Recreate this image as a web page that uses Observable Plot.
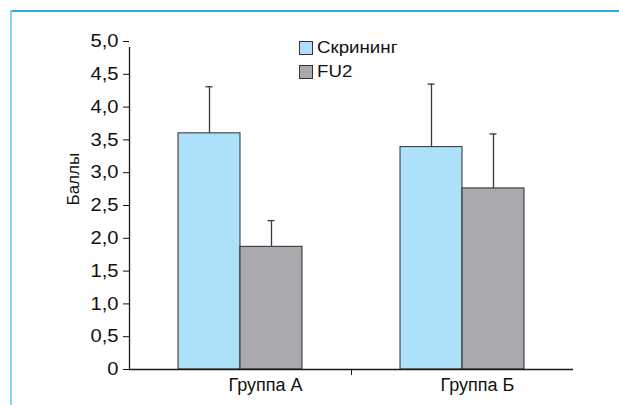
<!DOCTYPE html>
<html><head><meta charset="utf-8">
<script src="https://cdn.jsdelivr.net/npm/d3@7"></script>
<script src="https://cdn.jsdelivr.net/npm/@observablehq/plot@0.6"></script>
<style>
body{margin:0;background:#fff;}
#wrap{position:relative;width:619px;height:405px;overflow:hidden;font-family:"Liberation Sans",Arial,sans-serif;}
.ftop{position:absolute;left:10px;top:10px;width:609px;height:2px;background:#2ea8e0;}
.fleft{position:absolute;left:10px;top:10px;width:2px;height:395px;background:#80d4f8;}
#legend{position:absolute;left:299px;top:41px;}
.row{display:flex;align-items:center;height:14px;margin-bottom:10px;font-size:17px;color:#111;line-height:14px;}
.sw{width:12px;height:12px;border:1px solid #333;margin-right:4px;box-sizing:content-box;flex:none;}
.lab{display:inline-block;transform:scaleX(1.1);transform-origin:0 50%;white-space:nowrap;margin-top:-1px;}
</style></head><body><div id="wrap"></div>
<script>
const groups = ["Группа А", "Группа Б"];
const series = ["Скрининг", "FU2"];
const screening = [3.60, 3.39];
const screeningErr = [0.71, 0.96];
const fu2 = [1.87, 2.76];
const fu2Err = [0.40, 0.83];
const yTicks = [0, 0.5, 1, 1.5, 2, 2.5, 3, 3.5, 4, 4.5, 5];
const colors = ["#ade1fa", "#a7a9ac"];
const yLabel = "Баллы";

const sData = groups.map((g, i) => ({group: g, value: screening[i], err: screeningErr[i]}));
const fData = groups.map((g, i) => ({group: g, value: fu2[i], err: fu2Err[i]}));

const barStyle = {stroke: "#2b2b2b", strokeWidth: 1};
const errStyle = {stroke: "#3a3a3a", strokeWidth: 1.3};

const chart = Plot.plot({
  width: 619,
  height: 405,
  marginLeft: 129,
  marginRight: 46,
  marginTop: 41,
  marginBottom: 36,
  style: {fontFamily: "Liberation Sans, Arial, sans-serif", fontSize: "18px", color: "#111", background: "transparent"},
  x: {domain: groups, padding: 0, axis: null},
  y: {domain: [0, 5], axis: null},
  marks: [
    Plot.barY(sData, {x: "group", y: "value", fill: colors[0], insetLeft: 49, insetRight: 111, ...barStyle}),
    Plot.barY(fData, {x: "group", y: "value", fill: colors[1], insetLeft: 111, insetRight: 49, ...barStyle}),
    Plot.ruleX(sData, {x: "group", y1: "value", y2: d => d.value + d.err, dx: -31, ...errStyle}),
    Plot.ruleX(fData, {x: "group", y1: "value", y2: d => d.value + d.err, dx: 31, ...errStyle}),
    Plot.tickY(sData, {x: "group", y: d => d.value + d.err, insetLeft: 76.5, insetRight: 138.5, ...errStyle}),
    Plot.tickY(fData, {x: "group", y: d => d.value + d.err, insetLeft: 138.5, insetRight: 76.5, ...errStyle}),
    Plot.ruleY([0], {stroke: "#1a1a1a", strokeWidth: 1.3}),
    Plot.ruleX([groups[0]], {x: d => d, y1: 0, y2: 5, dx: -111, insetBottom: -6, stroke: "#1a1a1a", strokeWidth: 1.3}),
    Plot.ruleX(groups.slice(1), {x: d => d, y1: 0, y2: 0, dx: -111, insetBottom: -6, stroke: "#1a1a1a", strokeWidth: 1}),
    Plot.axisY({ticks: yTicks, tickSize: 6, tickPadding: 5, label: null, fontSize: 18,
      tickFormat: d => d === 0 ? "0" : d.toFixed(1).replace(".", ",")}),
    Plot.text([groups[0]], {x: d => d, frameAnchor: "bottom", dy: 21, dx: 25, fontSize: 18, fill: "#111"}),
    Plot.text([groups[1]], {x: d => d, frameAnchor: "bottom", dy: 21, dx: 15, fontSize: 18, fill: "#111"}),
    Plot.text([yLabel], {frameAnchor: "left", dx: -56, rotate: -90, fontSize: 17, fill: "#111", ariaLabel: "y-label"})
  ]
});

// horizontally widen some labels, as in the reference typesetting
function widen(el, k) {
  const t = el.getAttribute("transform");
  if (t) {
    el.setAttribute("transform", t + ` scale(${k},1)`);
  } else {
    const x = +el.getAttribute("x") || 0, y = +el.getAttribute("y") || 0;
    el.removeAttribute("x"); el.removeAttribute("y");
    el.setAttribute("transform", `translate(${x},${y}) scale(${k},1)`);
  }
}
chart.querySelectorAll('g[aria-label="y-axis tick label"] text').forEach(el => widen(el, 1.12));
chart.querySelectorAll('g[aria-label="y-label"] text').forEach(el => widen(el, 1.1));

const wrap = document.getElementById("wrap");
wrap.appendChild(chart);
chart.style.position = "absolute"; chart.style.left = "0"; chart.style.top = "0";
const frameTop = document.createElement("div"); frameTop.className = "ftop"; wrap.appendChild(frameTop);
const frameLeft = document.createElement("div"); frameLeft.className = "fleft"; wrap.appendChild(frameLeft);
const legend = document.createElement("div"); legend.id = "legend";
series.forEach((s, i) => {
  const row = document.createElement("div"); row.className = "row";
  const sw = document.createElement("div"); sw.className = "sw"; sw.style.background = colors[i];
  const lab = document.createElement("span"); lab.className = "lab"; lab.textContent = s;
  row.appendChild(sw); row.appendChild(lab); legend.appendChild(row);
});
wrap.appendChild(legend);
</script>
</body></html>
